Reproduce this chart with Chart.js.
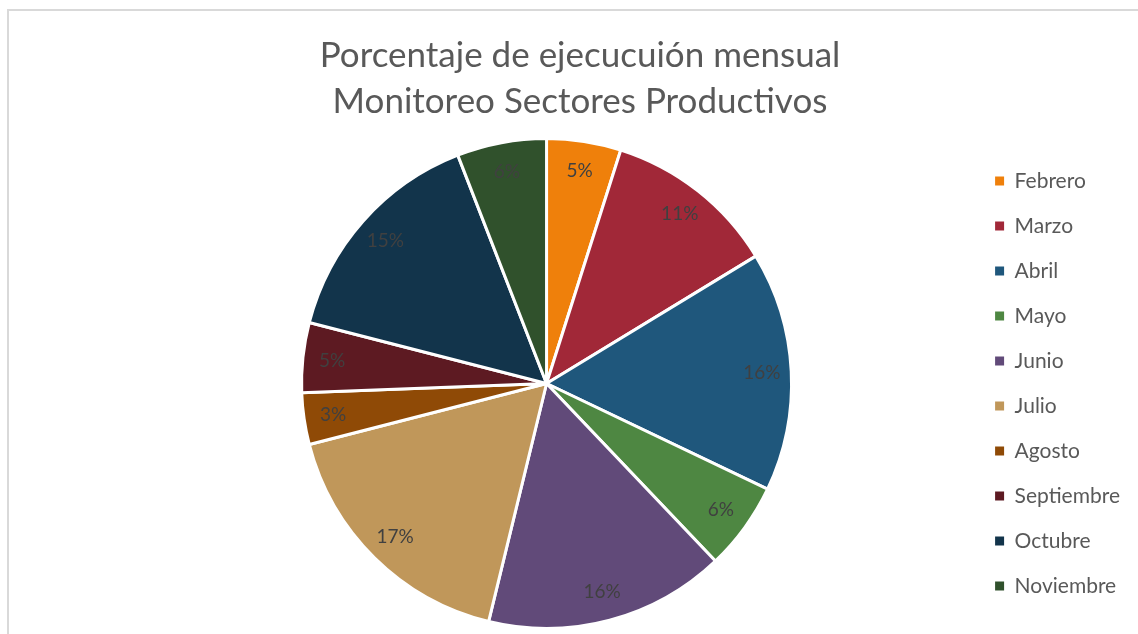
<!DOCTYPE html>
<html>
<head>
<meta charset="utf-8">
<script src="https://cdn.jsdelivr.net/npm/chart.js@4"></script>
<style>
  html, body { margin: 0; padding: 0; background: #fff; overflow: hidden; }
  #frame { position: absolute; left: 7px; top: 9px; width: 1200px; height: 700px;
           border-left: 2px solid #d9d9d9; border-top: 2px solid #d9d9d9; }
  #wrap { position: absolute; left: 0; top: 0; width: 1138px; height: 634px; }
</style>
</head>
<body>
<div id="frame"></div>
<div id="wrap"><canvas id="myChart" width="1138" height="634"></canvas></div>
<script>
// months and their share of the monthly execution (%)
var meses = ["Febrero", "Marzo", "Abril", "Mayo", "Junio", "Julio", "Agosto", "Septiembre", "Octubre", "Noviembre"];
var porcentajes = [4.9, 11.4, 15.8, 5.8, 15.9, 17.2, 3.4, 4.6, 15.1, 5.9];
var colores = ["#ef800b", "#a12838", "#1f577c", "#4e8742", "#614a79", "#c0975a", "#8f4a06", "#5d1a22", "#12344b", "#30512c"];
var titulo = ["Porcentaje de ejecucuión mensual", "Monitoreo Sectores Productivos"];

// percent labels drawn inside each slice
var etiquetas = {
  id: "etiquetas",
  afterDatasetsDraw: function(chart) {
    var ctx = chart.ctx;
    var meta = chart.getDatasetMeta(0);
    var total = porcentajes.reduce(function(a, b) { return a + b; }, 0);
    ctx.save();
    ctx.font = "19px Lato";
    ctx.fillStyle = "#404040";
    ctx.textAlign = "center";
    ctx.textBaseline = "middle";
    meta.data.forEach(function(arc, i) {
      var p = arc.getProps(["x", "y", "startAngle", "endAngle", "outerRadius"], true);
      var mid = (p.startAngle + p.endAngle) / 2;
      var r = p.outerRadius * 0.88;
      var txt = Math.round(porcentajes[i] / total * 100) + "%";
      ctx.fillText(txt, p.x + Math.cos(mid) * r, p.y + Math.sin(mid) * r);
    });
    ctx.restore();
  }
};

// title in the original is centred on the whole frame, not the padded box
var tituloCentrado = {
  id: "tituloCentrado",
  afterLayout: function(chart) {
    var t = chart.titleBlock;
    var d = 580 - (t.left + t.right) / 2;
    t.left += d;
    t.right += d;
  }
};

// legend squares without the white slice border
function etiquetasLeyenda(chart) {
  var items = Chart.overrides.doughnut.plugins.legend.labels.generateLabels(chart);
  items.forEach(function(it) {
    it.lineWidth = 0;
    it.strokeStyle = it.fillStyle;
  });
  return items;
}

var ctx = document.getElementById("myChart").getContext("2d");
var chart = new Chart(ctx, {
  type: "pie",
  data: {
    labels: meses,
    datasets: [
      {
        data: porcentajes,
        backgroundColor: colores,
        borderColor: "#ffffff",
        borderWidth: 3
      }
    ]
  },
  options: {
    responsive: false,
    animation: false,
    layout: { padding: { left: 122, right: 8, top: 0, bottom: 4 } },
    plugins: {
      title: {
        display: true,
        text: titulo,
        color: "#595959",
        font: { family: "Lato", size: 35, weight: "normal", lineHeight: 1.3 },
        padding: { top: 33, bottom: 13 }
      },
      legend: {
        position: "right",
        fullSize: false,
        labels: {
          boxWidth: 9,
          boxHeight: 9,
          padding: 24,
          color: "#595959",
          font: { family: "Lato", size: 21 },
          generateLabels: etiquetasLeyenda
        }
      },
      tooltip: { enabled: false }
    }
  },
  plugins: [etiquetas, tituloCentrado]
});
</script>
</body>
</html>
